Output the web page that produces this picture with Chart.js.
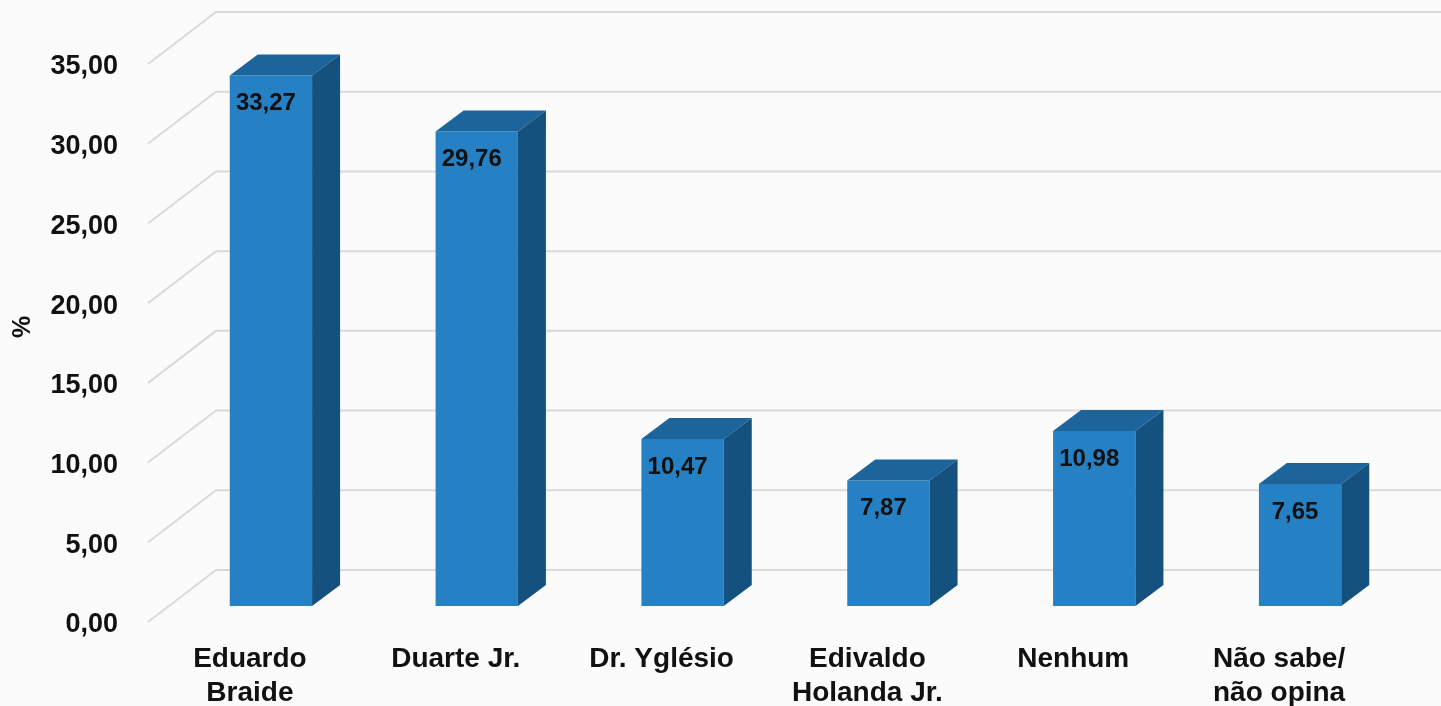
<!DOCTYPE html>
<html>
<head>
<meta charset="utf-8">
<script src="https://cdn.jsdelivr.net/npm/chart.js@4.4.0/dist/chart.umd.min.js"></script>
<style>
html,body{margin:0;padding:0;background:#fbfbfb;}
canvas{display:block;}
</style>
</head>
<body>
<canvas id="c" width="1441" height="706"></canvas>
<script>
const categories = [['Eduardo','Braide'],['Duarte Jr.'],['Dr. Yglésio'],['Edivaldo','Holanda Jr.'],['Nenhum'],['Não sabe/','não opina']];
const values = [33.27, 29.76, 10.47, 7.87, 10.98, 7.65];
const yTicks = [0, 5, 10, 15, 20, 25, 30, 35];

const FONT = "'Liberation Sans', Arial, sans-serif";
const fmt = v => Number(v).toFixed(2).replace('.', ',');

const bgPlugin = {
  id: 'bg',
  beforeDraw(chart) {
    const ctx = chart.ctx;
    ctx.save();
    ctx.fillStyle = '#fbfbfb';
    ctx.fillRect(0, 0, chart.width, chart.height);
    ctx.restore();
  }
};

// back wall gridlines with oblique depth
const wallPlugin = {
  id: 'wall',
  beforeDatasetsDraw(chart) {
    const ctx = chart.ctx, ys = chart.scales.y, area = chart.chartArea;
    ctx.save();
    ctx.strokeStyle = '#dadada';
    ctx.lineWidth = 2;
    yTicks.forEach(v => {
      const y = ys.getPixelForValue(v);
      ctx.beginPath();
      ctx.moveTo(area.left - 20, y + 16);
      ctx.lineTo(area.left + 48, y - 36);
      ctx.lineTo(chart.width, y - 36);
      ctx.stroke();
    });
    ctx.restore();
  }
};

// 3D top and side faces + value labels
const box3dPlugin = {
  id: 'box3d',
  afterDatasetsDraw(chart) {
    const ctx = chart.ctx;
    const meta = chart.getDatasetMeta(0);
    const dx = 28, dy = 21;
    ctx.save();
    meta.data.forEach((bar, i) => {
      const p = bar.getProps(['x', 'y', 'base', 'width'], true);
      const x0 = p.x - p.width / 2, x1 = p.x + p.width / 2;
      const top = p.y, base = p.base;
      ctx.fillStyle = '#1c6499';
      ctx.beginPath();
      ctx.moveTo(x0, top);
      ctx.lineTo(x0 + dx, top - dy);
      ctx.lineTo(x1 + dx, top - dy);
      ctx.lineTo(x1, top);
      ctx.closePath();
      ctx.fill();
      ctx.fillStyle = '#14517f';
      ctx.beginPath();
      ctx.moveTo(x1, top);
      ctx.lineTo(x1 + dx, top - dy);
      ctx.lineTo(x1 + dx, base - dy);
      ctx.lineTo(x1, base);
      ctx.closePath();
      ctx.fill();
      ctx.fillStyle = '#111';
      ctx.font = 'bold 24px ' + FONT;
      ctx.textAlign = 'center';
      ctx.textBaseline = 'middle';
      ctx.fillText(fmt(values[i]), p.x - 5, top + 28);
    });
    ctx.restore();
  }
};

new Chart(document.getElementById('c'), {
  type: 'bar',
  data: {
    labels: categories,
    datasets: [{
      data: values,
      backgroundColor: '#2581c3',
      borderWidth: 0,
      barPercentage: 0.8,
      categoryPercentage: 0.5
    }]
  },
  options: {
    responsive: false,
    animation: false,
    layout: { padding: { top: 48, right: 38, left: 0, bottom: 0 } },
    plugins: { legend: { display: false }, tooltip: { enabled: false } },
    scales: {
      x: {
        grid: { display: false, drawTicks: false },
        border: { display: false },
        ticks: {
          color: '#111',
          font: { family: FONT, size: 28, weight: 'bold', lineHeight: '34px' },
          padding: 36,
          labelOffset: -21,
          maxRotation: 0,
          autoSkip: false
        },
        afterFit(scale) { scale.height = 100; scale.paddingLeft = 0; scale.paddingRight = 0; }
      },
      y: {
        min: 0, max: 35,
        grid: { display: false, drawTicks: false },
        border: { display: false },
        ticks: {
          stepSize: 5,
          color: '#111',
          font: { family: FONT, size: 27, weight: 'bold' },
          padding: 50,
          labelOffset: 19,
          callback: v => fmt(v)
        },
        title: {
          display: true,
          text: '%',
          color: '#111',
          font: { family: FONT, size: 25, weight: 'bold' },
          padding: { top: 8, bottom: 0 }
        },
        afterFit(scale) { scale.width = 168; scale.paddingTop = 0; scale.paddingBottom = 0; }
      }
    }
  },
  plugins: [bgPlugin, wallPlugin, box3dPlugin]
});
</script>
</body>
</html>
